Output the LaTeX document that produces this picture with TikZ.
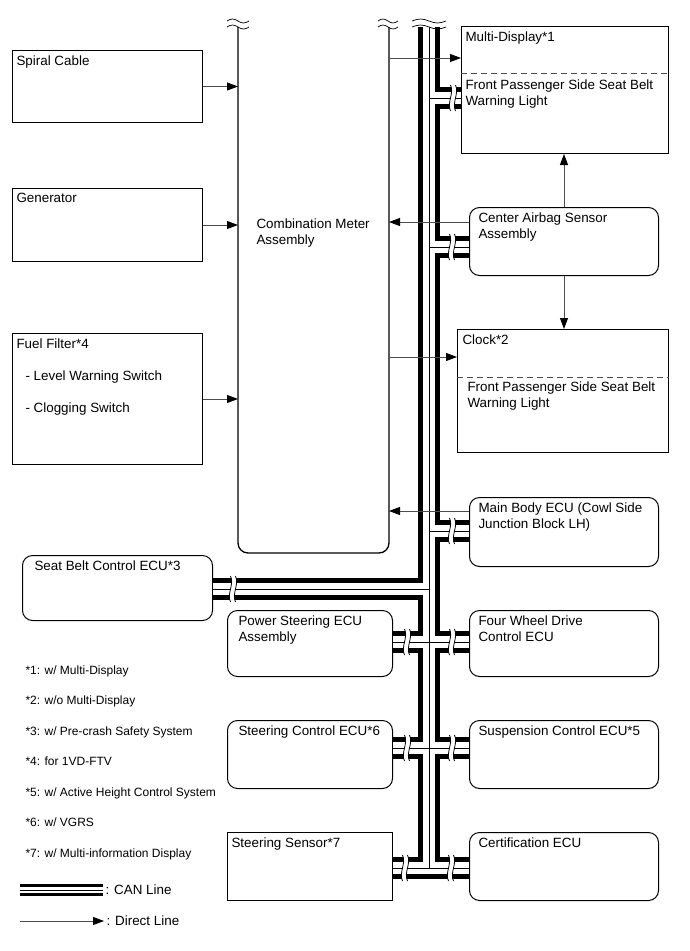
\documentclass[tikz,border=0pt]{standalone}
\usepackage{fontspec}
\setmainfont{Liberation Sans}
\usetikzlibrary{arrows.meta}

\tikzset{
  box/.style={draw, line width=1pt, inner sep=0pt, anchor=north west},
  rbox/.style={box, rounded corners=10pt},
  txt/.style={anchor=north west, inner sep=0pt, align=left, font=\fontsize{13.4}{16}\selectfont},
  note/.style={anchor=base west, inner sep=0pt, font=\fontsize{12}{14}\selectfont},
  direct/.style={draw=black!70, line width=0.8pt, -{Triangle[length=11pt,width=8pt,black]}},
  canouter/.style={line width=22pt, black},
  caninner/.style={line width=12pt, white},
  canmid/.style={line width=0.8pt, black},
  sep/.style={dash pattern=on 6pt off 4pt, line width=0.8pt, black!70},
}

% wavy break on a horizontal CAN line
\newcommand{\canbreak}[1]{%
  \begin{scope}[shift={(#1)}]
    \fill[white] (-2.5,-13) .. controls (1.5,-5) and (-6.5,5) .. (-2.5,13)
      -- (2.5,13) .. controls (-1.5,5) and (6.5,-5) .. (2.5,-13) -- cycle;
    \draw[line width=0.8pt] (-2.5,-13) .. controls (1.5,-5) and (-6.5,5) .. (-2.5,13)
      (2.5,-13) .. controls (6.5,-5) and (-1.5,5) .. (2.5,13);
  \end{scope}}
% double wave where a line runs off the top
\newcommand{\topcut}[2]{%
  \begin{scope}[shift={(#1)}]
    \foreach \dy in {0,6}
      \draw[line width=0.7pt] (-#2,\dy) sin (-#2/2,\dy-2) cos (0,\dy) sin (#2/2,\dy+2) cos (#2,\dy);
  \end{scope}}

\begin{document}
\begin{tikzpicture}[x=1pt, y=-1pt, line width=1pt]
  \useasboundingbox (0,0) rectangle (689,951);

  % inputs on the left
  \node[box, minimum width=190, minimum height=72] (spiral) at (12,50) {};
  \node[box, minimum width=190, minimum height=73] (gen) at (12,188) {};
  \node[box, minimum width=190, minimum height=131] (fuel) at (12,333) {};

  % combination meter, open at the top
  \node[box, draw=none, minimum width=150, minimum height=525] (meter) at (238,27) {};
  \draw[line width=1.3pt, rounded corners=10pt] (meter.north west) -- (meter.south west)
    -- (meter.south east) -- (meter.north east);

  % ECUs on the right
  \node[box, minimum width=207, minimum height=127] (multi) at (461,26) {};
  \node[rbox, minimum width=189, minimum height=68] (airbag) at (469,207) {};
  \node[box, minimum width=211, minimum height=123] (clock) at (457,329) {};
  \node[rbox, minimum width=189, minimum height=69] (mainbody) at (469,497) {};
  \node[rbox, minimum width=189, minimum height=66] (fourwd) at (469,610) {};
  \node[rbox, minimum width=189, minimum height=68] (susp) at (469,720) {};
  \node[rbox, minimum width=189, minimum height=68] (cert) at (469,832) {};

  % ECUs on the left of the bus
  \node[rbox, minimum width=190, minimum height=65] (seatbelt) at (22,555) {};
  \node[rbox, minimum width=165, minimum height=66] (powersteer) at (227,610) {};
  \node[rbox, minimum width=165, minimum height=68] (steerctrl) at (227,720) {};
  \node[box, minimum width=165, minimum height=68] (steersensor) at (227,832) {};

  \draw[sep] (multi.west |- 0,73) -- (multi.east |- 0,73);
  \draw[sep] (clock.west |- 0,377) -- (clock.east |- 0,377);

  % CAN bus
  \coordinate (bustop) at (429,27);
  \coordinate (busbot) at (429,868);
  \foreach \lay in {canouter,caninner,canmid}
    \draw[\lay] (bustop) -- (busbot)
      (bustop |- 0,98) -- (multi.west |- 0,98)
      (bustop |- 0,247) -- (airbag.west |- 0,247)
      (bustop |- 0,531) -- (mainbody.west |- 0,531)
      (bustop |- 0,589) -- (seatbelt.east |- 0,589)
      (powersteer.east |- 0,642) -- (fourwd.west |- 0,642)
      (steerctrl.east |- 0,748) -- (susp.west |- 0,748)
      (steersensor.east |- busbot) -- (cert.west |- busbot);
  \canbreak{453,98}
  \canbreak{452,247}
  \canbreak{452,531}
  \canbreak{233,589}
  \canbreak{407,642}
  \canbreak{452,642}
  \canbreak{407,748}
  \canbreak{452,748}
  \canbreak{405,868}
  \canbreak{451,868}

  \topcut{238,21}{11}
  \topcut{388,21}{10}
  \topcut{429,21}{17}

  % direct lines
  \draw[direct] (spiral.east) -- (spiral.east -| meter.west);
  \draw[direct] (gen.east) -- (gen.east -| meter.west);
  \draw[direct] (fuel.east) -- (fuel.east -| meter.west);
  \draw[direct] (meter.east |- 0,58) -- (multi.west |- 0,58);
  \draw[direct] (airbag.west |- 0,222) -- (meter.east |- 0,222);
  \draw[direct] (airbag.north) -- (multi.south -| airbag.north);
  \draw[direct] (airbag.south) -- (clock.north -| airbag.south);
  \draw[direct] (meter.east |- 0,357) -- (clock.west |- 0,357);
  \draw[direct] (mainbody.west |- 0,511) -- (meter.east |- 0,511);

  % box texts
  \node[txt] (spiralt) at ([shift={(4,5)}]spiral.north west) {Spiral Cable};
  \node[txt] (gent) at ([shift={(4,5)}]gen.north west) {Generator};
  \node[txt] (fuelt) at ([shift={(4,5)}]fuel.north west) {Fuel Filter*4};
  \node[txt] (fuela) at ([shift={(13,37)}]fuel.north west) {- Level Warning Switch};
  \node[txt] (fuelb) at ([shift={(13,69)}]fuel.north west) {- Clogging Switch};
  \node[txt] (metert) at ([shift={(18,191.5)}]meter.north west) {Combination Meter\\Assembly};
  \node[txt] (multit) at ([shift={(4,5)}]multi.north west) {Multi-Display*1};
  \node[txt] (multil) at ([shift={(4,53)}]multi.north west) {Front Passenger Side Seat Belt\\Warning Light};
  \node[txt] (airbagt) at ([shift={(9,5)}]airbag.north west) {Center Airbag Sensor\\Assembly};
  \node[txt] (clockt) at ([shift={(5,5)}]clock.north west) {Clock*2};
  \node[txt] (clockl) at ([shift={(10,52.5)}]clock.north west) {Front Passenger Side Seat Belt\\Warning Light};
  \node[txt] (mainbodyt) at ([shift={(9,5)}]mainbody.north west) {Main Body ECU (Cowl Side\\Junction Block LH)};
  \node[txt] (fourwdt) at ([shift={(9,5)}]fourwd.north west) {Four Wheel Drive\\Control ECU};
  \node[txt] (suspt) at ([shift={(9,5)}]susp.north west) {Suspension Control ECU*5};
  \node[txt] (certt) at ([shift={(9,5)}]cert.north west) {Certification ECU};
  \node[txt] (seatbeltt) at ([shift={(12,5)}]seatbelt.north west) {Seat Belt Control ECU*3};
  \node[txt] (powersteert) at ([shift={(11,5)}]powersteer.north west) {Power Steering ECU\\Assembly};
  \node[txt] (steerctrlt) at ([shift={(11,5)}]steerctrl.north west) {Steering Control ECU*6};
  \node[txt] (steersensort) at ([shift={(4,5)}]steersensor.north west) {Steering Sensor*7};

  % notes
  \foreach \txt [count=\i] in {*1: w/ Multi-Display, *2: w/o Multi-Display,
      *3: w/ Pre-crash Safety System, *4: for 1VD-FTV,
      *5: w/ Active Height Control System, *6: w/ VGRS,
      *7: w/ Multi-information Display}
    \node[note] (note\i) at (25, 643.5+30.5*\i) {\txt};

  % legend
  \coordinate (canA) at (20,890);
  \coordinate (canB) at (103,890);
  \draw[line width=12pt] (canA) -- (canB);
  \draw[white, line width=6.5pt] (canA) -- (canB);
  \draw[line width=0.8pt] (canA) -- (canB);
  \node[txt, anchor=west] (cantxt) at (105,890) {: CAN Line};
  \coordinate (dirA) at (20,921);
  \coordinate (dirB) at (104,921);
  \draw[direct] (dirA) -- (dirB);
  \node[txt, anchor=west] (dirtxt) at (106,921) {: Direct Line};
\end{tikzpicture}
\end{document}
